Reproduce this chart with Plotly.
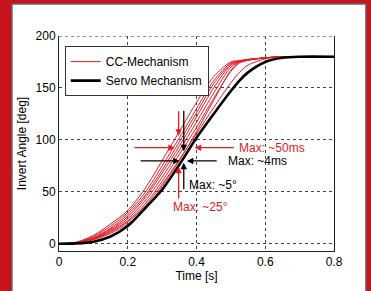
import plotly.graph_objects as go

# ---- data ----
time_s = [0, 0.05, 0.1, 0.15, 0.2, 0.25, 0.3, 0.35, 0.4, 0.45, 0.5, 0.525, 0.55, 0.6, 0.65, 0.7, 0.8]

cc_run1 = [0, 1.5, 8, 19, 32, 53, 80, 108, 136, 161, 175, 176.5, 177.5, 179, 180, 180, 180]
cc_run2 = [0, 1.2, 7, 17, 30, 49, 75, 102, 130, 157, 174, 176, 177.5, 179, 180, 180, 180]
cc_run3 = [0, 1, 6, 15, 28, 46, 71, 98, 126, 154, 173, 175.5, 177, 179, 180, 180, 180]
cc_run4 = [0, 1, 5.5, 14, 26, 44, 68, 94, 122, 150, 172, 175, 177, 179, 180, 180, 180]
cc_run5 = [0, 0.8, 5, 13, 24, 41, 64, 90, 117, 145, 170, 175, 177, 179, 180, 180, 180]
cc_run6 = [0, 0.7, 4.5, 12, 22, 38, 60, 86, 112, 140, 166, 174, 176.5, 179, 180, 180, 180]
cc_run7 = [0, 0.6, 4, 11, 21, 36, 57, 81, 106, 131, 155, 165, 172, 178, 180, 180, 180]
cc_run8 = [0, 0.6, 4, 10, 19, 33, 55, 80, 108, 138, 167, 175, 177, 179, 180, 180, 180]

servo = [0, 0.3, 2, 7, 17, 34, 52, 76, 102, 125, 147, 157, 165, 175, 179, 180, 180]

x_ticks = [0, 0.2, 0.4, 0.6, 0.8]
x_tick_labels = ["0", "0.2", "0.4", "0.6", "0.8"]
y_ticks = [0, 50, 100, 150, 200]
y_tick_labels = ["0", "50", "100", "150", "200"]

cc_runs = [cc_run1, cc_run2, cc_run3, cc_run4, cc_run5, cc_run6, cc_run7, cc_run8]

RED = "#e31b23"
BLACK = "#000000"
FONT = "Liberation Sans, Arial, sans-serif"

fig = go.Figure()
for i, run in enumerate(cc_runs):
    fig.add_trace(go.Scatter(
        x=time_s, y=run, mode="lines",
        line=dict(color=RED, width=1, shape="spline", smoothing=0.8),
        name="CC-Mechanism", showlegend=(i == 0), legendgroup="cc",
    ))
fig.add_trace(go.Scatter(
    x=time_s, y=servo, mode="lines",
    line=dict(color=BLACK, width=2.6, shape="spline", smoothing=0.8),
    name="Servo Mechanism",
))

# ---- crosshair dimension arrows ----
def arrow(tip_x, tip_y, tail_x, tail_y, color):
    return dict(x=tip_x, y=tip_y, ax=tail_x, ay=tail_y, xref="x", yref="y",
                axref="x", ayref="y", text="", showarrow=True,
                arrowhead=2, arrowsize=1.0, arrowwidth=1.3, arrowcolor=color)

annotations = [
    # red vertical (angle spread)
    arrow(0.348, 104, 0.348, 129, RED),
    arrow(0.348, 74, 0.348, 42, RED),
    # black vertical
    arrow(0.363, 89, 0.363, 129.5, BLACK),
    arrow(0.363, 78, 0.363, 51, BLACK),
    # red horizontal (time spread)
    arrow(0.337, 92.5, 0.215, 92.5, RED),
    arrow(0.395, 92.5, 0.513, 92.5, RED),
    # black horizontal
    arrow(0.351, 79.7, 0.233, 79.7, BLACK),
    arrow(0.372, 79.7, 0.463, 79.7, BLACK),
]

labels = [
    ("Max: ~50ms", 0.519, 92.5, RED),
    ("Max: ~4ms", 0.486, 79.7, BLACK),
    ("Max: ~5°", 0.371, 57, BLACK),
    ("Max: ~25°", 0.326, 35, RED),
]
for txt, lx, ly, col in labels:
    annotations.append(dict(x=lx, y=ly, xref="x", yref="y", text=txt,
                            showarrow=False, xanchor="left", yanchor="middle",
                            font=dict(family=FONT, size=12, color=col)))

# white panel on red background
shapes = [
    dict(type="rect", xref="paper", yref="paper",
         x0=-0.171, x1=1.116, y0=-0.25, y1=1.149,
         fillcolor="white", line=dict(color="#666666", width=1.5), layer="below"),
    dict(type="line", xref="paper", yref="y", x0=0, x1=1, y0=200, y1=200,
         line=dict(color="#333333", width=1, dash="dot"), layer="below"),
]

fig.update_layout(
    width=371, height=291,
    margin=dict(l=59, r=37, t=36, b=40),
    paper_bgcolor="#c8121c",
    plot_bgcolor="white",
    font=dict(family=FONT, size=12, color="black"),
    showlegend=True,
    legend=dict(x=0.021, y=0.953, xanchor="left", yanchor="top",
                bgcolor="white", bordercolor="#333333", borderwidth=1,
                font=dict(family=FONT, size=12, color="black"),
                tracegroupgap=0, itemwidth=30),
    annotations=annotations,
    shapes=shapes,
    xaxis=dict(range=[0, 0.8], tickvals=x_ticks, ticktext=x_tick_labels,
               showgrid=True, gridcolor="#444444", griddash="dot", gridwidth=1,
               showline=True, linecolor="#222222", linewidth=1, mirror=False,
               zeroline=False, ticks="", tickfont=dict(size=12), automargin=False,
               title=dict(text="Time [s]", font=dict(size=12), standoff=2)),
    yaxis=dict(range=[-7, 200], tickvals=y_ticks, ticktext=y_tick_labels,
               showgrid=True, gridcolor="#444444", griddash="dot", gridwidth=1,
               showline=True, linecolor="#222222", linewidth=1, mirror=True,
               zeroline=False, ticks="", tickfont=dict(size=12), automargin=False,
               title=dict(text="Invert Angle [deg]", font=dict(size=12), standoff=6)),
)

fig.write_html("out.html", config={"displayModeBar": False},
               post_script="document.body.style.margin='0';document.body.style.padding='0';")
